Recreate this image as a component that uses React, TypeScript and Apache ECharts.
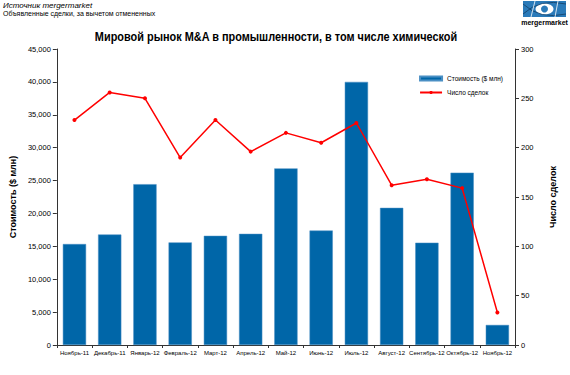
import React, { useEffect, useRef } from "react";
import * as echarts from "echarts";

const categories = [
  "Ноябрь-11", "Декабрь-11", "Январь-12", "Февраль-12", "Март-12", "Апрель-12", "Май-12",
  "Июнь-12", "Июль-12", "Август-12", "Сентябрь-12", "Октябрь-12", "Ноябрь-12",
];
const dealValue = [15350, 16800, 24450, 15600, 16600, 16900, 26850, 17400, 40000, 20850, 15550, 26200, 3050];
const dealCount = [228, 256, 250, 190, 228, 196, 215, 205, 225, 162, 168, 159, 33];

const titleText = "Мировой рынок M&A в промышленности, в том числе химической";
const sourceText = "Источник mergermarket";
const noteText = "Объявленные сделки, за вычетом отмененных";
const leftAxisName = "Стоимость ($ млн)";
const rightAxisName = "Число сделок";

const fmt = (v: number) => String(v).replace(/\B(?=(\d{3})+(?!\d))/g, ",");

export default function App() {
  const ref = useRef<HTMLDivElement>(null);
  useEffect(() => {
    document.body.style.margin = "0";
    const chart = echarts.init(ref.current!, null, { renderer: "svg" });
    const font = "Liberation Sans, Arial, sans-serif";
    const axisLine = { show: true, lineStyle: { color: "#333", width: 1 } };
    chart.setOption({
      animation: false,
      backgroundColor: "#fff",
      textStyle: { fontFamily: font },
      legend: {
        right: 62,
        top: 70,
        orient: "vertical",
        itemGap: 7,
        itemWidth: 22,
        itemHeight: 4,
        textStyle: { fontSize: 6.5, color: "#000", fontFamily: font },
        data: [
          { name: leftAxisName, icon: "rect" },
          { name: rightAxisName },
        ],
      },
      grid: { left: 56, right: 55, top: 49, bottom: 30 },
      xAxis: {
        type: "category",
        data: categories,
        boundaryGap: true,
        axisLine,
        axisTick: { show: true, length: 3, lineStyle: { color: "#333" } },
        axisLabel: { fontSize: 6, color: "#000", margin: 5, interval: 0, fontFamily: font },
      },
      yAxis: [
        {
          type: "value",
          min: 0,
          max: 45000,
          interval: 5000,
          name: leftAxisName,
          nameLocation: "middle",
          nameGap: 37,
          nameTextStyle: { fontSize: 9, fontWeight: "bold", color: "#000", fontFamily: font },
          axisLine,
          axisTick: { show: true, length: 4, lineStyle: { color: "#333" } },
          splitLine: { show: false },
          axisLabel: { fontSize: 7.5, color: "#000", margin: 6, formatter: (v: number) => fmt(v), fontFamily: font },
        },
        {
          type: "value",
          min: 0,
          max: 300,
          interval: 50,
          name: rightAxisName,
          nameLocation: "middle",
          nameGap: 33,
          nameRotate: 90,
          nameTextStyle: { fontSize: 9, fontWeight: "bold", color: "#000", fontFamily: font },
          axisLine,
          axisTick: { show: true, length: 4, lineStyle: { color: "#333" } },
          splitLine: { show: false },
          axisLabel: { fontSize: 7.5, color: "#000", margin: 6, fontFamily: font },
        },
      ],
      series: [
        {
          name: leftAxisName,
          type: "bar",
          yAxisIndex: 0,
          data: dealValue,
          barCategoryGap: "34%",
          itemStyle: { color: "#0066a8", borderColor: "#4a8fc4", borderWidth: 0.5 },
        },
        {
          name: rightAxisName,
          type: "line",
          yAxisIndex: 1,
          data: dealCount,
          symbol: "circle",
          symbolSize: 4,
          lineStyle: { color: "#ff0000", width: 1.5 },
          itemStyle: { color: "#ff0000" },
        },
      ],
      graphic: [
        {
          type: "text",
          x: 276,
          y: 37,
          scaleX: 0.84,
          style: {
            text: titleText,
            fill: "#000",
            font: "bold 13px Liberation Sans, Arial, sans-serif",
            textAlign: "center",
            textVerticalAlign: "middle",
          },
        },
        {
          type: "text",
          left: 3,
          top: 1,
          style: { text: sourceText, fill: "#000", font: "italic 8px Liberation Sans, Arial, sans-serif" },
        },
        {
          type: "text",
          left: 3,
          top: 10,
          style: { text: noteText, fill: "#000", font: "7px Liberation Sans, Arial, sans-serif" },
        },
        {
          type: "group",
          children: [
            { type: "rect", shape: { x: 523, y: 1, width: 43, height: 16 }, style: { fill: "#2a7ab9" } },
            { type: "ellipse", shape: { cx: 544.5, cy: 9, rx: 9, ry: 5.5 }, style: { fill: "#fff" } },
            { type: "circle", shape: { cx: 544.5, cy: 9, r: 3.5 }, style: { fill: "#2a7ab9" } },
            { type: "bezierCurve", shape: { x1: 523, y1: 4, x2: 566, y2: 14, cpx1: 540, cpy1: 20 }, style: { stroke: "#123d66", lineWidth: 0.8, fill: "none" } },
            { type: "bezierCurve", shape: { x1: 523, y1: 14, x2: 566, y2: 4, cpx1: 540, cpy1: -2 }, style: { stroke: "#123d66", lineWidth: 0.8, fill: "none" } },
            { type: "line", shape: { x1: 535, y1: 1, x2: 531, y2: 17 }, style: { stroke: "#fff", lineWidth: 0.8 } },
            { type: "line", shape: { x1: 558, y1: 1, x2: 555, y2: 17 }, style: { stroke: "#fff", lineWidth: 0.8 } },
            {
              type: "text",
              x: 544.5,
              y: 19,
              style: { text: "mergermarket", fill: "#000", font: "bold 7px Liberation Sans, Arial, sans-serif", textAlign: "center" },
            },
          ],
        },
      ],
    });
    return () => chart.dispose();
  }, []);
  return <div ref={ref} style={{ width: 570, height: 375 }} />;
}
